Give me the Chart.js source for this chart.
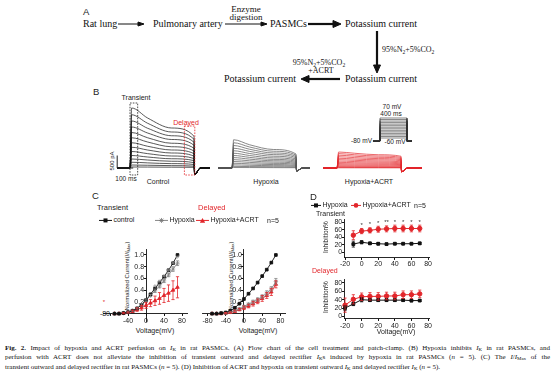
<!DOCTYPE html>
<html>
<head>
<meta charset="utf-8">
<script src="https://cdn.jsdelivr.net/npm/chart.js@4.4.1/dist/chart.umd.min.js"></script>
<style>
  body { margin: 0; width: 554px; height: 377px; position: relative; overflow: hidden; background: #fff;
         font-family: "Liberation Sans", Arial, sans-serif; color: #222; }
  .t { position: absolute; white-space: nowrap; line-height: 1; }
  .c { transform: translate(-50%, -50%); }
  .l { transform: translateY(-50%); }
  .r { transform: translate(-100%, -50%); }
  .rot { transform: translate(-50%, -50%) rotate(-90deg); }
  .serif { font-family: "Liberation Serif", "Times New Roman", serif; color: #111; }
  .red { color: #e2262b; }
  .panel { font-size: 9.5px; }
  sub { font-size: 70%; vertical-align: -0.3em; line-height: 0; }
  canvas { position: absolute; }
  .cap { position: absolute; left: 5px; width: 545px; font-family: "Liberation Serif", serif; font-size: 7px;
         line-height: 1; color: #111; text-align: justify; text-align-last: justify; white-space: nowrap; }
  .cap.last { text-align: left; text-align-last: left; }
  .leg svg { vertical-align: middle; }
</style>
</head>
<body>

<!-- A: flow chart -->
<svg style="position:absolute;left:0;top:0" width="554" height="90">
  <g stroke="#111" fill="#111">
    <line x1="118" y1="24" x2="140" y2="24" stroke-width="1"/><polygon points="144,24 138,22 138,26"/>
    <line x1="225" y1="24" x2="263" y2="24" stroke-width="1"/><polygon points="267,24 261,22 261,26"/>
    <line x1="308" y1="24" x2="334" y2="24" stroke-width="2.2"/><polygon points="341,24 333,20.5 333,27.5"/>
    <line x1="377" y1="31" x2="377" y2="66" stroke-width="2.2"/><polygon points="377,73 373.5,65 380.5,65"/>
    <line x1="340" y1="79" x2="308" y2="79" stroke-width="2.2"/><polygon points="301,79 309,75.5 309,82.5"/>
  </g>
</svg>
<div class="t l panel" style="left:83px;top:11.5px">A</div>
<div class="t l serif" style="left:83px;top:24px;font-size:10px">Rat lung</div>
<div class="t l serif" style="left:153px;top:24px;font-size:10px">Pulmonary artery</div>
<div class="t c serif" style="left:246px;top:8.5px;font-size:9px">Enzyme</div>
<div class="t c serif" style="left:246px;top:17px;font-size:9px">digestion</div>
<div class="t l serif" style="left:270px;top:24px;font-size:10px">PASMCs</div>
<div class="t l serif" style="left:345px;top:24px;font-size:10px">Potassium current</div>
<div class="t l serif" style="left:382px;top:50px;font-size:8px">95%N<sub>2</sub>+5%CO<sub>2</sub></div>
<div class="t c serif" style="left:319px;top:62.5px;font-size:8px">95%N<sub>2</sub>+5%CO<sub>2</sub></div>
<div class="t c serif" style="left:321px;top:71px;font-size:8px">+ACRT</div>
<div class="t l serif" style="left:345px;top:79px;font-size:10px">Potassium current</div>
<div class="t l serif" style="left:224px;top:79px;font-size:10px">Potassium current</div>

<!-- B: traces -->
<div class="t l panel" style="left:93px;top:92px">B</div>
<div class="t c" style="left:136px;top:97px;font-size:7px">Transient</div>
<div class="t c red" style="left:186px;top:122px;font-size:7px">Delayed</div>
<div class="t rot" style="left:111.5px;top:161px;font-size:6px">500 pA</div>
<div class="t c" style="left:126px;top:179px;font-size:6.5px">100 ms</div>
<div class="t c" style="left:158px;top:181px;font-size:7px">Control</div>
<div class="t c" style="left:266px;top:181px;font-size:7px">Hypoxia</div>
<div class="t c" style="left:369px;top:181px;font-size:7px">Hypoxia+ACRT</div>
<div class="t c" style="left:392px;top:106.5px;font-size:6.5px">70 mV</div>
<div class="t c" style="left:391px;top:113.5px;font-size:6.5px">400 ms</div>
<div class="t r" style="left:372px;top:141px;font-size:6.5px">-80 mV</div>
<div class="t c" style="left:395px;top:142px;font-size:6.5px">-60 mV</div>
<canvas id="trControl" width="110" height="80" style="left:112px;top:98px"></canvas>
<canvas id="trHypoxia" width="110" height="80" style="left:214px;top:98px"></canvas>
<canvas id="trAcrt" width="110" height="80" style="left:319px;top:98px"></canvas>
<canvas id="protocol" width="48" height="30" style="left:370px;top:114px"></canvas>

<!-- C: I/Imax -->
<div class="t l panel" style="left:92px;top:196px">C</div>
<div class="t l" style="left:97px;top:208px;font-size:7.5px">Transient</div>
<div class="t l red" style="left:198px;top:208px;font-size:7.5px">Delayed</div>
<div class="t l leg" style="left:99px;top:220px;font-size:7px">
  <svg width="13" height="6"><line x1="0" y1="3" x2="13" y2="3" stroke="#111"/><rect x="4.5" y="1" width="4" height="4" fill="#111"/></svg>&thinsp;control</div>
<div class="t l leg" style="left:155px;top:220px;font-size:7px">
  <svg width="13" height="6"><line x1="0" y1="3" x2="13" y2="3" stroke="#888"/><path d="M6.5 0.5V5.5M4 3H9M4.7 1.2L8.3 4.8M8.3 1.2L4.7 4.8" stroke="#777" stroke-width="0.8"/></svg>&thinsp;Hypoxia</div>
<div class="t l leg" style="left:196px;top:220px;font-size:7px">
  <svg width="13" height="6"><line x1="0" y1="3" x2="13" y2="3" stroke="#e2262b"/><polygon points="6.5,0.5 9.2,5.3 3.8,5.3" fill="#e2262b"/></svg>&thinsp;Hypoxia+ACRT</div>
<div class="t l" style="left:267px;top:220px;font-size:7px">n=5</div>
<div class="t rot" style="left:127px;top:276px;font-size:6px">Normalized Current(<i>I</i>/<i>I</i><sub>Max</sub>)</div>
<div class="t rot" style="left:231px;top:276px;font-size:6px">Normalized Current(<i>I</i>/<i>I</i><sub>Max</sub>)</div>
<div class="t r" style="left:110px;top:313px;font-size:7px">-80</div>
<div class="t c red" style="left:104px;top:302px;font-size:6px">*</div>
<div class="t c" style="left:155px;top:330px;font-size:7px">Voltage(mV)</div>
<div class="t c" style="left:258px;top:330px;font-size:7px">Voltage(mV)</div>
<canvas id="cTrans" width="107" height="97" style="left:88px;top:238px"></canvas>
<canvas id="cDelay" width="102" height="97" style="left:192px;top:238px"></canvas>

<!-- D: inhibition -->
<div class="t l panel" style="left:310px;top:197px">D</div>
<div class="t l leg" style="left:311px;top:205px;font-size:7px">
  <svg width="10" height="6"><line x1="0" y1="3" x2="10" y2="3" stroke="#111"/><rect x="3" y="1" width="4" height="4" fill="#111"/></svg>&thinsp;Hypoxia</div>
<div class="t l leg" style="left:351px;top:205px;font-size:7px">
  <svg width="10" height="6"><line x1="0" y1="3" x2="10" y2="3" stroke="#e2262b"/><circle cx="5" cy="3" r="2.3" fill="#e2262b"/></svg>&thinsp;Hypoxia+ACRT</div>
<div class="t l" style="left:414px;top:205px;font-size:7px">n=5</div>
<div class="t l" style="left:316px;top:213px;font-size:7px">Transient</div>
<div class="t l red" style="left:312px;top:270px;font-size:7px">Delayed</div>
<div class="t rot" style="left:326px;top:237px;font-size:6.5px">Inhibition%</div>
<div class="t rot" style="left:326px;top:297px;font-size:6.5px">Inhibition%</div>
<div class="t c" style="left:396px;top:331px;font-size:7px">Voltage(mV)</div>
<canvas id="dTrans" width="105" height="60" style="left:330px;top:212px"></canvas>
<canvas id="dDelay" width="105" height="60" style="left:330px;top:272px"></canvas>

<!-- caption -->
<div class="cap" style="top:344.5px"><b>Fig. 2.</b> Impact of hypoxia and ACRT perfusion on <i>I</i><sub>K</sub> in rat PASMCs. (A) Flow chart of the cell treatment and patch-clamp. (B) Hypoxia inhibits <i>I</i><sub>K</sub> in rat PASMCs, and</div>
<div class="cap" style="top:354px">perfusion with ACRT does not alleviate the inhibition of transient outward and delayed rectifier <i>I</i><sub>K</sub>s induced by hypoxia in rat PASMCs (<i>n</i> = 5). (C) The <i>I</i>/<i>I</i><sub>Max</sub> of the</div>
<div class="cap last" style="top:363.5px">transient outward and delayed rectifier in rat PASMCs (<i>n</i> = 5). (D) Inhibition of ACRT and hypoxia on transient outward <i>I</i><sub>K</sub> and delayed rectifier <i>I</i><sub>K</sub> (<i>n</i> = 5).</div>

<script>
// ---------- B: whole-cell K+ currents (pA), one row per sweep (-60 ... +70 mV)
// values at these times (ms) after the step onset: peak, 110, 260, end of step
const sampleTimes = [10, 110, 260, 400];
const controlSweeps = [
  [2400, 2000, 1600, 1270], [2130, 1790, 1440, 1150], [1880, 1590, 1290, 1030],
  [1640, 1400, 1140, 910], [1420, 1210, 990, 790], [1210, 1040, 850, 680],
  [1010, 870, 720, 575], [830, 720, 600, 475], [660, 575, 480, 380],
  [500, 440, 370, 295], [360, 320, 270, 215], [230, 205, 175, 140],
  [120, 110, 95, 75], [40, 38, 33, 28]
];
const hypoxiaSweeps = [
  [1130, 930, 740, 560], [1010, 840, 670, 510], [900, 750, 600, 460],
  [790, 665, 535, 410], [690, 580, 470, 360], [590, 500, 405, 312],
  [500, 425, 345, 267], [415, 355, 290, 224], [335, 288, 236, 183],
  [260, 225, 185, 144], [190, 165, 137, 107], [125, 110, 92, 72],
  [65, 58, 49, 38], [20, 18, 15, 12]
];
const acrtSweeps = [
  [640, 590, 530, 470], [575, 530, 478, 425], [512, 472, 427, 380],
  [450, 415, 376, 335], [390, 360, 327, 292], [333, 308, 280, 250],
  [278, 258, 235, 210], [226, 210, 192, 172], [177, 165, 151, 136],
  [132, 123, 113, 102], [91, 85, 78, 71], [55, 51, 47, 43],
  [25, 23, 22, 20], [8, 7, 7, 6]
];
const controlSpan = [-80, 500], hypoxiaSpan = [-87, 487], acrtSpan = [-87, 531];
const controlTail = -260, hypoxiaTail = -120, acrtTail = -150;
// dashed windows and scale bar on the control record: [t0, t1, i0, i1]
const transientWindow = [0, 48, -280, 2600];
const delayedWindow = [340, 405, -280, 1680];
const scaleBar = [-80, 20, 0, 500]; // 100 ms, 500 pA

// voltage protocol
const stepVoltages = [-60, -50, -40, -30, -20, -10, 0, 10, 20, 30, 40, 50, 60, 70];
const holdingVoltage = -80;
const protocolTimes = [-104, 0, 400, 474];

// ---------- C: normalized I-V
const ivVoltages = [-70, -60, -50, -40, -30, -20, -10, 0, 10, 20, 30, 40, 50, 60, 70];
const trControl = [0, 0, 0.01, 0.025, 0.05, 0.09, 0.15, 0.23, 0.33, 0.43, 0.53, 0.63, 0.74, 0.86, 1.0];
const trHypoxia = [0, 0, 0.01, 0.025, 0.05, 0.09, 0.15, 0.23, 0.31, 0.39, 0.47, 0.56, 0.66, 0.76, 0.86];
const trHypoxiaErr = [0, 0, 0, 0.01, 0.01, 0.01, 0.02, 0.02, 0.02, 0.03, 0.03, 0.03, 0.03, 0.04, 0.04];
const trAcrt = [0, 0, 0.01, 0.02, 0.04, 0.07, 0.1, 0.14, 0.18, 0.22, 0.26, 0.31, 0.35, 0.4, 0.45];
const trAcrtErr = [0, 0, 0.01, 0.01, 0.02, 0.03, 0.04, 0.05, 0.06, 0.08, 0.1, 0.12, 0.14, 0.16, 0.18];
const dlControl = [0, 0, 0.01, 0.02, 0.05, 0.1, 0.17, 0.25, 0.34, 0.43, 0.53, 0.64, 0.75, 0.87, 1.0];
const dlHypoxia = [0, 0, 0.005, 0.01, 0.03, 0.05, 0.08, 0.12, 0.16, 0.2, 0.24, 0.29, 0.35, 0.42, 0.55];
const dlHypoxiaErr = [0, 0, 0, 0.01, 0.01, 0.01, 0.02, 0.02, 0.02, 0.03, 0.03, 0.03, 0.04, 0.04, 0.05];
const dlAcrt = [0, 0, 0, 0.01, 0.02, 0.04, 0.07, 0.1, 0.13, 0.17, 0.21, 0.26, 0.31, 0.37, 0.5];
const dlAcrtErr = [0, 0, 0, 0.01, 0.01, 0.02, 0.02, 0.03, 0.03, 0.04, 0.04, 0.05, 0.05, 0.06, 0.06];

// ---------- D: inhibition (%)
const inhTransV = [-10, 0, 10, 20, 30, 40, 50, 60, 70];
const inhTransHyp = [22, 27, 24, 23, 22, 23, 23, 23, 24];
const inhTransHypErr = [8, 4, 3, 3, 2, 2, 2, 2, 3];
const inhTransAcrt = [46, 57, 59, 62, 63, 64, 64, 64, 64];
const inhTransAcrtErr = [12, 7, 7, 8, 8, 9, 9, 9, 9];
const inhTransSig = ['', '*', '*', '*', '**', '*', '*', '*', '*'];
const inhDelayV = [-20, -10, 0, 10, 20, 30, 40, 50, 60, 70];
const inhDelayHyp = [20, 30, 40, 39, 39, 39, 39, 39, 38, 38];
const inhDelayHypErr = [6, 4, 5, 3, 3, 3, 3, 3, 3, 2];
const inhDelayAcrt = [27, 41, 47, 48, 48, 49, 49, 52, 52, 54];
const inhDelayAcrtErr = [17, 11, 9, 9, 9, 9, 9, 9, 9, 9];

const RED = "#e2262b";
Chart.defaults.font.family = '"Liberation Sans", Arial, sans-serif';
Chart.defaults.font.size = 7;
Chart.defaults.color = "#222";

const pts = (xs, ys) => xs.map((x, i) => ({ x: x, y: ys[i] }));

// error bars + little marks above points, drawn through the chart scales
const errorBars = {
  id: "errorBars",
  afterDatasetsDraw(chart) {
    const { ctx, scales: { x, y } } = chart;
    chart.data.datasets.forEach((ds) => {
      ctx.save();
      ctx.strokeStyle = ds.borderColor;
      ctx.lineWidth = 0.8;
      ds.data.forEach((p, j) => {
        const e = ds.errors ? ds.errors[j] : 0;
        const px = x.getPixelForValue(p.x);
        if (e) {
          const y1 = y.getPixelForValue(p.y + e), y2 = y.getPixelForValue(p.y - e);
          ctx.beginPath();
          ctx.moveTo(px, y1); ctx.lineTo(px, y2);
          ctx.moveTo(px - 1.6, y1); ctx.lineTo(px + 1.6, y1);
          ctx.moveTo(px - 1.6, y2); ctx.lineTo(px + 1.6, y2);
          ctx.stroke();
        }
        if (ds.marks && ds.marks[j]) {
          ctx.fillStyle = ds.markColor || "#333";
          ctx.font = "6px 'Liberation Sans', Arial";
          ctx.textAlign = "center";
          ctx.fillText(ds.marks[j], px, y.getPixelForValue(p.y + e) - 1.5);
        }
      });
      ctx.restore();
    });
  }
};

// dashed windows and scale bar for the control record
const annotations = {
  id: "annotations",
  afterDatasetsDraw(chart, args, opts) {
    if (!opts.on) return;
    const { ctx, scales: { x, y } } = chart;
    const rect = (w, color) => {
      const x0 = x.getPixelForValue(w[0]), x1 = x.getPixelForValue(w[1]);
      const y0 = y.getPixelForValue(w[2]), y1 = y.getPixelForValue(w[3]);
      ctx.save();
      ctx.strokeStyle = color; ctx.lineWidth = 0.8; ctx.setLineDash([1.6, 1.2]);
      ctx.strokeRect(x0, y1, x1 - x0, y0 - y1);
      ctx.restore();
    };
    rect(transientWindow, "#222");
    rect(delayedWindow, RED);
    ctx.save();
    ctx.strokeStyle = "#222"; ctx.lineWidth = 1;
    ctx.beginPath();
    ctx.moveTo(x.getPixelForValue(scaleBar[0]), y.getPixelForValue(scaleBar[3]));
    ctx.lineTo(x.getPixelForValue(scaleBar[0]), y.getPixelForValue(scaleBar[2]));
    ctx.lineTo(x.getPixelForValue(scaleBar[1]), y.getPixelForValue(scaleBar[2]));
    ctx.stroke();
    ctx.restore();
  }
};
Chart.register(errorBars, annotations);

function sweepPoints(vals, span, tail) {
  const p = [{ x: span[0], y: 0 }, { x: 0, y: 0 }];
  sampleTimes.forEach((t, i) => p.push({ x: t, y: vals[i] }));
  p.push({ x: 404, y: tail }, { x: 440, y: 0 }, { x: span[1], y: 0 });
  return p;
}

function traceChart(id, sweeps, span, tail, color, withMarks) {
  new Chart(document.getElementById(id), {
    type: "line",
    data: {
      datasets: sweeps.map((s) => ({
        data: sweepPoints(s, span, tail),
        borderColor: color, borderWidth: 0.7, pointRadius: 0,
        cubicInterpolationMode: "monotone", clip: false
      }))
    },
    options: {
      animation: false, responsive: false, events: [],
      plugins: { legend: { display: false }, tooltip: { enabled: false }, annotations: { on: withMarks } },
      scales: {
        x: { type: "linear", display: false, min: -112.5, max: 575 },
        y: { display: false, min: -400, max: 2800 }
      }
    }
  });
}

traceChart("trControl", controlSweeps, controlSpan, controlTail, "#111", true);
traceChart("trHypoxia", hypoxiaSweeps, hypoxiaSpan, hypoxiaTail, "#555", false);
traceChart("trAcrt", acrtSweeps, acrtSpan, acrtTail, RED, false);

new Chart(document.getElementById("protocol"), {
  type: "line",
  data: {
    datasets: stepVoltages.map((v) => ({
      data: [
        { x: protocolTimes[0], y: holdingVoltage }, { x: protocolTimes[1], y: holdingVoltage },
        { x: protocolTimes[1], y: v }, { x: protocolTimes[2], y: v },
        { x: protocolTimes[2], y: holdingVoltage }, { x: protocolTimes[3], y: holdingVoltage }
      ],
      borderColor: "#333", borderWidth: 0.6, pointRadius: 0, tension: 0
    }))
  },
  options: {
    animation: false, responsive: false, events: [],
    plugins: { legend: { display: false }, tooltip: { enabled: false } },
    scales: {
      x: { type: "linear", display: false, min: -148, max: 563 },
      y: { display: false, min: -99, max: 96 }
    }
  }
});

// axes pinned to a value of the other axis; the chart area comes from the canvas padding
function axisStyle(extra) {
  return Object.assign({
    type: "linear",
    afterFit: (s) => { if (s.isHorizontal()) s.height = 0; else s.width = 0; },
    grid: { drawOnChartArea: false, color: "#111", tickLength: 2 },
    border: { color: "#111", width: 0.9 }
  }, extra);
}

function ivChart(id, pad, xr, ctrl, hyp, hypErr, acrt, acrtErr, hideMinus80, hypMarks) {
  new Chart(document.getElementById(id), {
    type: "line",
    data: {
      datasets: [
        { data: pts(ivVoltages, ctrl), borderColor: "#111", backgroundColor: "#111", borderWidth: 0.9,
          pointStyle: "rect", pointRadius: 1.9, clip: false },
        { data: pts(ivVoltages, hyp), errors: hypErr, borderColor: "#888", backgroundColor: "#888", borderWidth: 0.9,
          pointStyle: "star", pointRadius: 2.2, pointBorderWidth: 0.7, clip: false,
          marks: hypMarks, markColor: "#999" },
        { data: pts(ivVoltages, acrt), errors: acrtErr, borderColor: RED, backgroundColor: RED, borderWidth: 0.9,
          pointStyle: "triangle", pointRadius: 2, clip: false }
      ]
    },
    options: {
      animation: false, responsive: false, events: [],
      layout: { padding: pad },
      plugins: { legend: { display: false }, tooltip: { enabled: false } },
      scales: {
        x: axisStyle({ min: xr[0], max: xr[1], position: { y: 0 },
          ticks: { stepSize: 40, includeBounds: false, padding: 1, maxRotation: 0, autoSkip: false,
                   callback: (v) => (hideMinus80 && v === -80 ? "" : v) } }),
        y: axisStyle({ min: -0.14, max: 1.1, position: { x: 0 },
          ticks: { stepSize: 0.2, includeBounds: false, autoSkip: false,
                   callback: (v) => (v > 0.05 ? v.toFixed(1) + " " : "") } })
      }
    }
  });
}

const hypoxiaHashes = ["", "", "", "", "", "", "", "", "", "#", "#", "#", "#", "#", "#"];
ivChart("cTrans", { left: 15.25, right: 7.6, top: 11.1, bottom: 13.1 }, [-95, 92],
        trControl, trHypoxia, trHypoxiaErr, trAcrt, trAcrtErr, true, hypoxiaHashes);
ivChart("cDelay", { left: 10, right: 9, top: 11.1, bottom: 13.1 }, [-92, 90],
        dlControl, dlHypoxia, dlHypoxiaErr, dlAcrt, dlAcrtErr, false, null);

const inhX = [-21, 82];
function inhChart(id, pad, yr, xs, hyp, hypErr, acrt, acrtErr, sig) {
  new Chart(document.getElementById(id), {
    type: "line",
    data: {
      datasets: [
        { data: pts(xs, hyp), errors: hypErr, borderColor: "#111", backgroundColor: "#111", borderWidth: 1,
          pointStyle: "rect", pointRadius: 2, clip: false },
        { data: pts(xs, acrt), errors: acrtErr, borderColor: RED, backgroundColor: RED, borderWidth: 1,
          pointStyle: "circle", pointRadius: 2.2, clip: false, marks: sig, markColor: "#333" }
      ]
    },
    options: {
      animation: false, responsive: false, events: [],
      layout: { padding: pad },
      plugins: { legend: { display: false }, tooltip: { enabled: false } },
      scales: {
        x: axisStyle({ min: inhX[0], max: inhX[1], position: { y: yr[0] },
          ticks: { stepSize: 20, includeBounds: false, padding: 1, maxRotation: 0, autoSkip: false } }),
        y: axisStyle({ min: yr[0], max: yr[1], position: { x: inhX[0] },
          ticks: { stepSize: 20, includeBounds: false, autoSkip: false, callback: (v) => v + " " } })
      }
    }
  });
}

inhChart("dTrans", { left: 14.2, right: 5.3, top: 4.9, bottom: 15 }, [-12.7, 89],
         inhTransV, inhTransHyp, inhTransHypErr, inhTransAcrt, inhTransAcrtErr, inhTransSig);
inhChart("dDelay", { left: 14.2, right: 5.3, top: 3.9, bottom: 13.5 }, [-4.8, 89],
         inhDelayV, inhDelayHyp, inhDelayHypErr, inhDelayAcrt, inhDelayAcrtErr, null);
</script>
</body>
</html>
